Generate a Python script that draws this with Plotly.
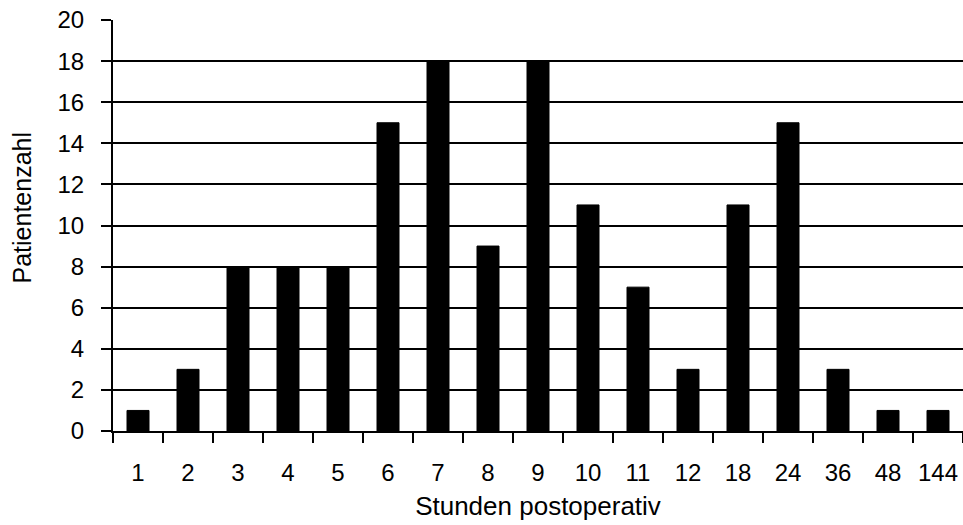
import plotly.graph_objects as go

# Patient counts per postoperative hour
hours = ["1", "2", "3", "4", "5", "6", "7", "8", "9", "10", "11", "12", "18", "24", "36", "48", "144"]
patients = [1, 3, 8, 8, 8, 15, 18, 9, 18, 11, 7, 3, 11, 15, 3, 1, 1]
y_ticks = list(range(0, 21, 2))

FONT = "Liberation Sans, Arial, sans-serif"

fig = go.Figure(
    go.Bar(
        x=hours,
        y=patients,
        marker=dict(color="black", line=dict(color="black", width=1)),
    )
)

fig.update_layout(
    width=963,
    height=525,
    margin=dict(l=113, r=0, t=20, b=94),
    paper_bgcolor="white",
    plot_bgcolor="white",
    bargap=0.56,
    showlegend=False,
    font=dict(family=FONT, size=24, color="black"),
)

fig.update_xaxes(
    type="category",
    tickson="boundaries",
    tickangle=0,
    ticks="outside",
    ticklen=10,
    tickwidth=2,
    tickcolor="black",
    showline=True,
    linecolor="black",
    linewidth=2,
    showgrid=False,
    ticklabelstandoff=19,
    title=dict(text="Stunden postoperativ", font=dict(size=26), standoff=12),
)

fig.update_yaxes(
    range=[0, 20],
    tickvals=y_ticks,
    ticks="outside",
    ticklen=10,
    tickwidth=2,
    tickcolor="black",
    showline=True,
    linecolor="black",
    linewidth=2,
    showgrid=True,
    gridcolor="black",
    gridwidth=2,
    zeroline=False,
    ticklabelstandoff=12,
)

# Vertical axis caption, placed slightly above the plot's mid-height
fig.add_annotation(
    text="Patientenzahl",
    xref="paper",
    yref="paper",
    x=-0.107,
    y=0.544,
    xanchor="center",
    yanchor="middle",
    textangle=-90,
    showarrow=False,
    font=dict(size=25),
)

fig.write_html("out.html")
